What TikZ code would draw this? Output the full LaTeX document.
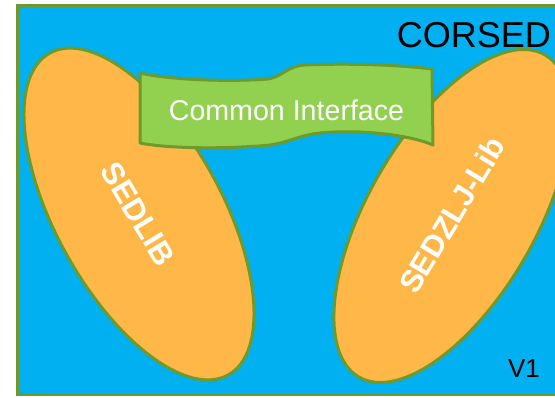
\documentclass[tikz,border=0pt]{standalone}
\usepackage{fontspec}
\setmainfont{Liberation Sans}
\definecolor{skyblue}{HTML}{00B0F0}
\definecolor{libfill}{HTML}{FFB747}
\definecolor{olive}{HTML}{6D9A2B}
\definecolor{leaf}{HTML}{92D050}
\begin{document}
\begin{tikzpicture}[x=1pt,y=-1pt,
  frame/.style={draw=olive,line width=3pt,fill=skyblue},
  libshape/.style={draw=olive,line width=3pt,fill=libfill},
  banner/.style={draw=olive,line width=3pt,fill=leaf,line join=round},
  libtext/.style={text=white,font=\bfseries\fontsize{31}{32}\selectfont,inner sep=0pt},
  bannertext/.style={text=white,font=\fontsize{28.6}{30}\selectfont,inner sep=0pt},
  plaintext/.style={text=black,inner sep=0pt}]
\useasboundingbox (0,0) rectangle (555,397);
\clip (0,0) rectangle (555,397);
% framework area
\draw[frame] (17,5) rectangle (590,394);
% the two libraries
\draw[libshape,rotate around={-61:(139,214)}] (139,214) ellipse [x radius=184,y radius=83];
\draw[libshape,rotate around={60:(452,216)}] (452,216) ellipse [x radius=186,y radius=84];
% wavy interface banner
\draw[banner] (140,73) .. controls (170,80) and (230,82) .. (268,79)
  .. controls (282,77) and (287,66) .. (305,65)
  .. controls (350,63) and (400,65) .. (432,69)
  -- (433,145)
  .. controls (410,135) and (360,129) .. (320,133)
  .. controls (300,135) and (290,142) .. (270,145)
  .. controls (230,149) and (170,149) .. (140,143) -- cycle;
% labels
\node[bannertext,anchor=base] (ci) at (286.5,120) {Common Interface};
\node[libtext,rotate=-59] (sedlib) at (138,214) {SEDLIB};
\node[libtext,rotate=59] (sedzlj) at (452,215) {SEDZLJ-Lib};
\node[plaintext,anchor=base east,font=\fontsize{36}{38}\selectfont] (corsed) at (551,47) {CORSED};
\node[plaintext,anchor=base east,font=\fontsize{26}{28}\selectfont] (ver) at (540,377) {V1};
\end{tikzpicture}
\end{document}
